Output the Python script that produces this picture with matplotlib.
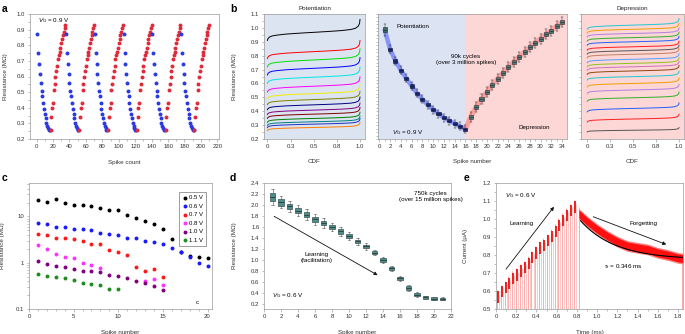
import numpy as np
import matplotlib
matplotlib.use("Agg")
import matplotlib.pyplot as plt
from matplotlib.ticker import MultipleLocator, NullFormatter, FixedLocator, FixedFormatter

plt.rcParams['font.family'] = ['Liberation Sans', 'DejaVu Sans']
plt.rcParams['font.size'] = 4.3
plt.rcParams['mathtext.fontset'] = 'custom'
plt.rcParams['mathtext.rm'] = 'Liberation Sans'
plt.rcParams['mathtext.it'] = 'Liberation Sans:italic'

# ---------------- data ----------------
# a: one potentiation (blue) / depression (red) cycle, repeated six times
a_blue = [0.875, 0.75, 0.68, 0.615, 0.56, 0.51, 0.475, 0.43, 0.39, 0.36, 0.335, 0.30, 0.285, 0.27, 0.26, 0.26]
a_red = [0.26, 0.34, 0.40, 0.43, 0.515, 0.55, 0.60, 0.635, 0.67, 0.71, 0.735, 0.76, 0.785, 0.815,
         0.84, 0.865, 0.885, 0.91, 0.93]
a_cycle_start = [1, 36, 71, 106, 141, 176]

# b: box medians
pot_spike = list(range(1, 17))
pot_med = [0.985, 0.846, 0.762, 0.695, 0.637, 0.582, 0.529, 0.486, 0.447, 0.411, 0.382, 0.353,
           0.332, 0.310, 0.291, 0.27]
dep_spike = list(range(17, 35))
dep_med = [0.36, 0.43, 0.488, 0.538, 0.589, 0.634, 0.677, 0.718, 0.757, 0.79, 0.826, 0.86,
           0.893, 0.922, 0.954, 0.98, 1.014, 1.04]

# b: CDF curves (median level and spread of each curve), shared CDF shape
cdf_grid = [0, 0.005, 0.02, 0.05, 0.1, 0.2, 0.35, 0.5, 0.65, 0.8, 0.9, 0.95, 0.98, 0.995, 1.0]
cdf_shape = [-1.0, -0.8, -0.6, -0.45, -0.35, -0.22, -0.1, 0.0, 0.1, 0.22, 0.35, 0.5, 0.75, 1.1, 1.6]
pot_cdf_mid = [0.968, 0.829, 0.769, 0.709, 0.645, 0.58, 0.527, 0.484, 0.446, 0.408, 0.379, 0.348,
               0.324, 0.307, 0.283]
pot_cdf_spread = [0.058, 0.05, 0.05, 0.048, 0.045, 0.042, 0.04, 0.037, 0.035, 0.032, 0.03, 0.028,
                  0.026, 0.025, 0.023]
pot_colors = ['#000000', '#ff0000', '#00e000', '#0000ff', '#00e5e5', '#ff00ff', '#f0f000', '#808000',
              '#000080', '#800080', '#800000', '#008000', '#008080', '#2030c0', '#ff8000']
dep_cdf_mid = [0.263, 0.344, 0.42, 0.497, 0.553, 0.60, 0.649, 0.69, 0.72, 0.745, 0.774, 0.81,
               0.836, 0.864, 0.90, 0.93, 0.96, 0.99, 1.02]
dep_cdf_spread = [0.012, 0.022, 0.025, 0.025, 0.025, 0.025, 0.025, 0.025, 0.025, 0.025, 0.025,
                  0.025, 0.025, 0.025, 0.025, 0.025, 0.025, 0.027, 0.03]
dep_colors = ['#555555', '#ff2020', '#2060ff', '#30b030', '#b080e0', '#f0a000', '#20c8d0', '#8b4513',
              '#d070c0', '#90c020', '#50a0ff', '#c08060', '#555555', '#ff2020', '#2060ff', '#30b030',
              '#b080e0', '#f0a000', '#20c8d0']

# c
c_labels = ['0.5 V', '0.6 V', '0.7 V', '0.8 V', '1.0 V', '1.1 V']
c_colors = ['#000000', '#1a1aff', '#ff1a1a', '#ff33ff', '#800080', '#1e8c1e']
c_x = [list(range(1, 21)), list(range(1, 21)), list(range(1, 16)),
       [1, 2, 3, 4, 5, 6, 7, 8, 13, 14, 15], list(range(1, 16)), list(range(1, 11))]
c_y = [[23.2, 20.9, 23.5, 19.3, 17.7, 17.7, 16.6, 15.0, 13.6, 14.0, 10.6, 9.1, 8.0, 6.8, 5.4, 3.3,
        1.73, 1.42, 1.35, 1.28],
       [7.35, 7.0, 6.0, 6.0, 5.5, 5.35, 5.1, 4.5, 4.1, 4.0, 3.5, 3.4, 3.0, 2.75, 2.5, 2.1, 1.73,
        1.33, 0.98, 0.85],
       [4.1, 4.0, 3.5, 3.5, 3.2, 2.9, 2.6, 2.5, 1.9, 1.7, 1.47, 0.82, 0.66, 0.72, 0.5],
       [2.37, 1.98, 1.54, 1.30, 1.26, 1.0, 0.875, 0.78, 0.41, 0.45, 0.33],
       [1.07, 0.92, 0.86, 0.81, 0.75, 0.67, 0.65, 0.62, 0.55, 0.52, 0.47, 0.41, 0.36, 0.31, 0.26],
       [0.57, 0.53, 0.49, 0.46, 0.42, 0.36, 0.345, 0.33, 0.265, 0.265]]

# d
d_spike = list(range(1, 22))
d_med = [2.145, 2.05, 1.975, 1.90, 1.82, 1.745, 1.67, 1.60, 1.52, 1.44, 1.34, 1.25, 1.135, 1.0,
         0.85, 0.665, 0.49, 0.37, 0.32, 0.30, 0.295]
d_box = [0.065, 0.06, 0.05, 0.05, 0.045, 0.045, 0.04, 0.04, 0.04, 0.035, 0.03, 0.03, 0.03, 0.03,
         0.03, 0.03, 0.03, 0.025, 0.02, 0.02, 0.02]
d_whisk = [0.14, 0.11, 0.1, 0.1, 0.1, 0.1, 0.09, 0.08, 0.08, 0.07, 0.06, 0.06, 0.05, 0.05, 0.05,
           0.05, 0.05, 0.04, 0.03, 0.03, 0.03]

# e
learn_t = [0.013, 0.051, 0.089, 0.127, 0.165, 0.203, 0.241, 0.279, 0.317, 0.355, 0.393, 0.431,
           0.469, 0.507, 0.545, 0.583, 0.621, 0.659, 0.697, 0.735, 0.773]
learn_peak = [0.606, 0.634, 0.657, 0.681, 0.709, 0.728, 0.75, 0.769, 0.793, 0.825, 0.85, 0.878,
              0.893, 0.919, 0.943, 0.971, 1.003, 1.031, 1.06, 1.084, 1.106]
forget_t = [0.82, 0.9, 1.0, 1.1, 1.2, 1.3, 1.4, 1.5, 1.6, 1.7, 1.8, 1.85]
forget_i = [1.028, 0.987, 0.943, 0.906, 0.874, 0.85, 0.84, 0.831, 0.812, 0.80, 0.784, 0.78]
tau_r = 0.346
fit_t0, fit_i0, fit_amp = 0.837, 0.775, 0.215

# ---------------- layout ----------------
W, H = 685, 334
fig = plt.figure(figsize=(W / 100, H / 100), dpi=100)


def px_axes(l, t, r, b):
    return fig.add_axes([l / W, 1 - b / H, (r - l) / W, (b - t) / H])


def style(ax):
    for s in ax.spines.values():
        s.set_color('#9a9a9a')
        s.set_linewidth(0.5)
    ax.tick_params(which='both', direction='out', color='#8a8a8a', width=0.4, labelcolor='#333333',
                   labelsize=4.3, pad=1.5)
    ax.tick_params(which='major', length=1.8)
    ax.tick_params(which='minor', length=1.1)


def label_px(ax, box, xlab=None, xy=None, ylab=None, yx=None):
    l, t, r, b = box
    if xlab is not None:
        ax.set_xlabel(xlab, fontsize=4.5, color='#333333')
        ax.xaxis.set_label_coords(0.5, -(xy - b) / (b - t))
    if ylab is not None:
        ax.set_ylabel(ylab, fontsize=4.5, color='#333333')
        ax.yaxis.set_label_coords((yx - l) / (r - l), 0.5)


def panel_letter(x, y, s):
    fig.text(x / W, 1 - y / H, s, fontsize=7.5, weight='bold', ha='left', va='center')


# ---- a ----
box_a = (30, 14, 219, 139)
ax = px_axes(*box_a)
style(ax)
for s0 in a_cycle_start:
    ax.scatter(np.arange(len(a_blue)) + s0, a_blue, s=8, color='#2a3ae0', lw=0, zorder=3)
    ax.scatter(np.arange(len(a_red)) + s0 + len(a_blue), a_red, s=8, color='#e02a3a', lw=0, zorder=3)
ax.set_xlim(-8, 222)
ax.set_ylim(0.2, 1.0)
ax.xaxis.set_major_locator(MultipleLocator(20))
ax.xaxis.set_minor_locator(MultipleLocator(10))
ax.yaxis.set_major_locator(MultipleLocator(0.1))
ax.yaxis.set_minor_locator(MultipleLocator(0.05))
ax.yaxis.set_major_formatter(plt.FuncFormatter(lambda v, p: f'{v:.1f}'))
ax.text(2, 0.985, r'$V_{\rm G}$ = 0.9 V', va='top', ha='left', fontsize=4.5)
label_px(ax, box_a, 'Spike count', 160, 'Resistance (MΩ)', 8)
panel_letter(2, 9, 'a')

# ---- b left (potentiation CDF) ----
box_b1 = (264, 14, 365, 139)
ax = px_axes(*box_b1)
style(ax)
ax.set_facecolor('#dce3f1')
for mid, spr, col in zip(pot_cdf_mid, pot_cdf_spread, pot_colors):
    ax.plot(cdf_grid, mid + spr * np.array(cdf_shape), color=col, lw=0.7)
ax.set_xlim(-0.037, 1.054)
ax.set_ylim(0.2, 1.1)
ax.xaxis.set_major_locator(FixedLocator([0, 0.25, 0.5, 0.75, 1.0]))
ax.xaxis.set_major_formatter(FixedFormatter(['0', '0.3', '0.5', '0.8', '1.0']))
ax.yaxis.set_major_locator(MultipleLocator(0.1))
ax.yaxis.set_minor_locator(MultipleLocator(0.05))
ax.yaxis.set_major_formatter(plt.FuncFormatter(lambda v, p: f'{v:.1f}'))
ax.set_title('Potentiation', fontsize=4.5, pad=3, color='#222222')
label_px(ax, box_b1, 'CDF', 159, 'Resistance (MΩ)', 237)
panel_letter(230, 9, 'b')

# ---- b middle (box plots) ----
box_b2 = (378, 14, 567, 139)
ax = px_axes(*box_b2)
style(ax)
ax.axvspan(-1, 16, color='#dce3f3', lw=0, zorder=0)
ax.axvspan(16, 40, color='#fdd6d6', lw=0, zorder=0)
ax.plot(pot_spike, pot_med, color='#5a6cff', alpha=0.65, lw=3.2, solid_capstyle='round', zorder=1)
ax.plot([16] + dep_spike, [pot_med[-1]] + dep_med, color='#ff6a6a', alpha=0.5, lw=3.6,
        solid_capstyle='round', zorder=1)


def box_stats(meds, half, whisk):
    return [dict(med=m, q1=m - half, q3=m + half, whislo=m - whisk, whishi=m + whisk, fliers=[])
            for m in meds]


bp_kw = dict(widths=0.75, patch_artist=True, showfliers=False, manage_ticks=False, zorder=3)
ax.bxp(box_stats(pot_med[:1], 0.018, 0.04), positions=pot_spike[:1],
       boxprops=dict(facecolor='#3f6e6c', edgecolor='#1e2e2e', lw=0.4),
       medianprops=dict(color='#111111', lw=0.4), whiskerprops=dict(color='#333333', lw=0.35),
       capprops=dict(color='#333333', lw=0.35), **bp_kw)
ax.bxp(box_stats(pot_med[1:], 0.012, 0.028), positions=pot_spike[1:],
       boxprops=dict(facecolor='#1d2a6e', edgecolor='#0c1440', lw=0.4),
       medianprops=dict(color='#0c1440', lw=0.4), whiskerprops=dict(color='#333333', lw=0.35),
       capprops=dict(color='#333333', lw=0.35), **bp_kw)
ax.bxp(box_stats(dep_med, 0.014, 0.035), positions=dep_spike,
       boxprops=dict(facecolor='#4f7c7a', edgecolor='#2a3434', lw=0.4),
       medianprops=dict(color='#222222', lw=0.4), whiskerprops=dict(color='#333333', lw=0.35),
       capprops=dict(color='#333333', lw=0.35), **bp_kw)
ax.set_xlim(-0.25, 34.9)
ax.set_ylim(0.2, 1.1)
ax.xaxis.set_major_locator(MultipleLocator(2))
ax.xaxis.set_minor_locator(MultipleLocator(1))
ax.yaxis.set_major_locator(MultipleLocator(0.05))
ax.yaxis.set_minor_locator(MultipleLocator(0.025))
ax.yaxis.set_major_formatter(NullFormatter())
ax.text(3.2, 1.01, 'Potentiation', fontsize=4.5, va='center', ha='left')
ax.text(21.7, 0.77, '90k cycles\n(over 3 million spikes)', fontsize=4.5, va='center', ha='right',
        multialignment='center', linespacing=1.2)
ax.text(28.8, 0.286, 'Depression', fontsize=4.5, va='center', ha='center')
ax.text(2.4, 0.243, r'$V_{\rm G}$ = 0.9 V', fontsize=4.5, va='center', ha='left')
label_px(ax, box_b2, 'Spike number', 159)

# ---- b right (depression CDF) ----
box_b3 = (581, 14, 684, 139)
ax = px_axes(*box_b3)
style(ax)
ax.set_facecolor('#fdd6d6')
for mid, spr, col in zip(dep_cdf_mid, dep_cdf_spread, dep_colors):
    ax.plot(cdf_grid, mid + spr * np.array(cdf_shape), color=col, lw=0.7)
ax.set_xlim(-0.068, 1.054)
ax.set_ylim(0.2, 1.1)
ax.xaxis.set_major_locator(FixedLocator([0, 0.25, 0.5, 0.75, 1.0]))
ax.xaxis.set_major_formatter(FixedFormatter(['0', '0.3', '0.5', '0.8', '1.0']))
ax.yaxis.set_major_locator(MultipleLocator(0.05))
ax.yaxis.set_major_formatter(NullFormatter())
ax.set_title('Depression', fontsize=4.5, pad=3, color='#222222')
label_px(ax, box_b3, 'CDF', 159)

# ---- c ----
box_c = (29, 183, 212, 309)
ax = px_axes(*box_c)
style(ax)
for xs, ys, col, lab in zip(c_x, c_y, c_colors, c_labels):
    ax.scatter(xs, ys, s=8, color=col, lw=0, label=lab, zorder=3)
ax.set_yscale('log')
ax.set_xlim(0, 20.5)
ax.set_ylim(0.1, 53)
ax.set_yticks([0.1, 1, 10])
ax.set_yticklabels(['0.1', '1', '10'])
ax.yaxis.set_minor_formatter(NullFormatter())
ax.xaxis.set_major_locator(MultipleLocator(5))
ax.xaxis.set_minor_locator(MultipleLocator(1))
leg = ax.legend(loc='upper right', bbox_to_anchor=(0.985, 0.95), fontsize=4.3, frameon=True,
                fancybox=False, edgecolor='#555555', handletextpad=0.2, borderpad=0.5,
                labelspacing=0.55, handlelength=1.0, markerscale=1.0)
leg.get_frame().set_linewidth(0.5)
ax.text(18.8, 0.14, 'c', fontsize=4.3, ha='center', va='center')
label_px(ax, box_c, 'Spike number', 330, 'Resistance (MΩ)', 5)
panel_letter(2, 178, 'c')

# ---- d ----
box_d = (264, 183, 451, 309)
ax = px_axes(*box_d)
style(ax)
stats = [dict(med=m, q1=m - b, q3=m + b, whislo=m - w, whishi=m + w, fliers=[])
         for m, b, w in zip(d_med, d_box, d_whisk)]
ax.bxp(stats, positions=d_spike, widths=0.68, patch_artist=True, showfliers=False, manage_ticks=False,
       boxprops=dict(facecolor='#4e8e8c', edgecolor='#2a4646', lw=0.45),
       medianprops=dict(color='#1a2a2a', lw=0.5), whiskerprops=dict(color='#555555', lw=0.4),
       capprops=dict(color='#555555', lw=0.4))
ax.set_xlim(0, 22)
ax.set_ylim(0.11, 2.4)
ax.xaxis.set_major_locator(MultipleLocator(2))
ax.yaxis.set_major_locator(MultipleLocator(0.2))
ax.yaxis.set_major_formatter(plt.FuncFormatter(lambda v, p: f'{v:.1f}'))
ax.text(19.6, 2.15, '750k cycles\n(over 15 million spikes)', fontsize=4.5, ha='center', va='center',
        linespacing=1.25)
ax.annotate('', xy=(13.65, 0.70), xytext=(0.9, 1.82),
            arrowprops=dict(arrowstyle='-|>', color='#111111', lw=0.6, mutation_scale=5))
ax.text(6.2, 1.05, 'Learning\n(facilitation)', fontsize=4.5, ha='center', va='center', linespacing=1.25)
ax.text(0.9, 0.35, r'$V_{\rm G}$ = 0.6 V', fontsize=4.5, ha='left', va='center')
label_px(ax, box_d, 'Spike number', 330, 'Resistance (MΩ)', 237)
panel_letter(230, 178, 'd')

# ---- e ----
box_e = (496, 183, 683, 309)
ax = px_axes(*box_e)
style(ax)
lt = np.array(learn_t)
lp = np.array(learn_peak)
# rising and falling edge of each read pulse (pale), plus the dense top of the pulse (dark red)
ax.vlines(lt - 0.004, 0.5, lp, color='#ff9c9c', lw=0.6, zorder=1)
ax.vlines(lt + 0.016, 0.5, lp - 0.02, color='#ffc0c0', lw=0.6, zorder=1)
ax.vlines(lt + 0.006, lp - 0.07, lp - 0.008, color='#ee1010', lw=1.3, zorder=2)
ax.vlines([forget_t[0], forget_t[-1] - 0.005], 0.5, [forget_i[0] + 0.04, forget_i[-1]],
          color='#ff9c9c', lw=0.6, zorder=1)
fi = np.array(forget_i)
ax.fill_between(forget_t, fi - 0.03, fi + 0.03, color='#ff8080', lw=0, zorder=2)
ax.fill_between(forget_t, fi - 0.022, fi + 0.022, color='#ff1010', lw=0, zorder=2)
t_fit = np.linspace(fit_t0, 1.85, 100)
ax.plot(t_fit, fit_i0 + fit_amp * np.exp(-(t_fit - fit_t0) / tau_r), color='k', lw=0.8, zorder=3)
ax.set_xlim(0, 1.85)
ax.set_ylim(0.5, 1.2)
ax.xaxis.set_major_locator(MultipleLocator(0.2))
ax.xaxis.set_minor_locator(MultipleLocator(0.1))
ax.yaxis.set_major_locator(MultipleLocator(0.1))
ax.yaxis.set_minor_locator(MultipleLocator(0.05))
ax.xaxis.set_major_formatter(plt.FuncFormatter(lambda v, p: '0' if abs(v) < 1e-9 else f'{v:.1f}'))
ax.yaxis.set_major_formatter(plt.FuncFormatter(lambda v, p: f'{v:.1f}'))
ax.annotate('', xy=(0.59, 1.08), xytext=(0.082, 0.709),
            arrowprops=dict(arrowstyle='-|>', color='#111111', lw=0.6, mutation_scale=5))
ax.annotate('', xy=(1.71, 0.853), xytext=(0.936, 1.018),
            arrowprops=dict(arrowstyle='-|>', color='#111111', lw=0.6, mutation_scale=5))
ax.text(0.25, 0.975, 'Learning', fontsize=4.5, ha='center', va='center')
ax.text(1.46, 0.975, 'Forgetting', fontsize=4.5, ha='center', va='center')
ax.text(1.07, 0.738, r'$\tau_{\rm r}$ = 0.346 ms', fontsize=4.5, ha='left', va='center')
ax.text(0.09, 1.13, r'$V_{\rm G}$ = 0.6 V', fontsize=4.5, ha='left', va='center')
label_px(ax, box_e, 'Time (ms)', 330, 'Current (μA)', 468)
panel_letter(464, 178, 'e')

fig.savefig('out.png', dpi=100)
